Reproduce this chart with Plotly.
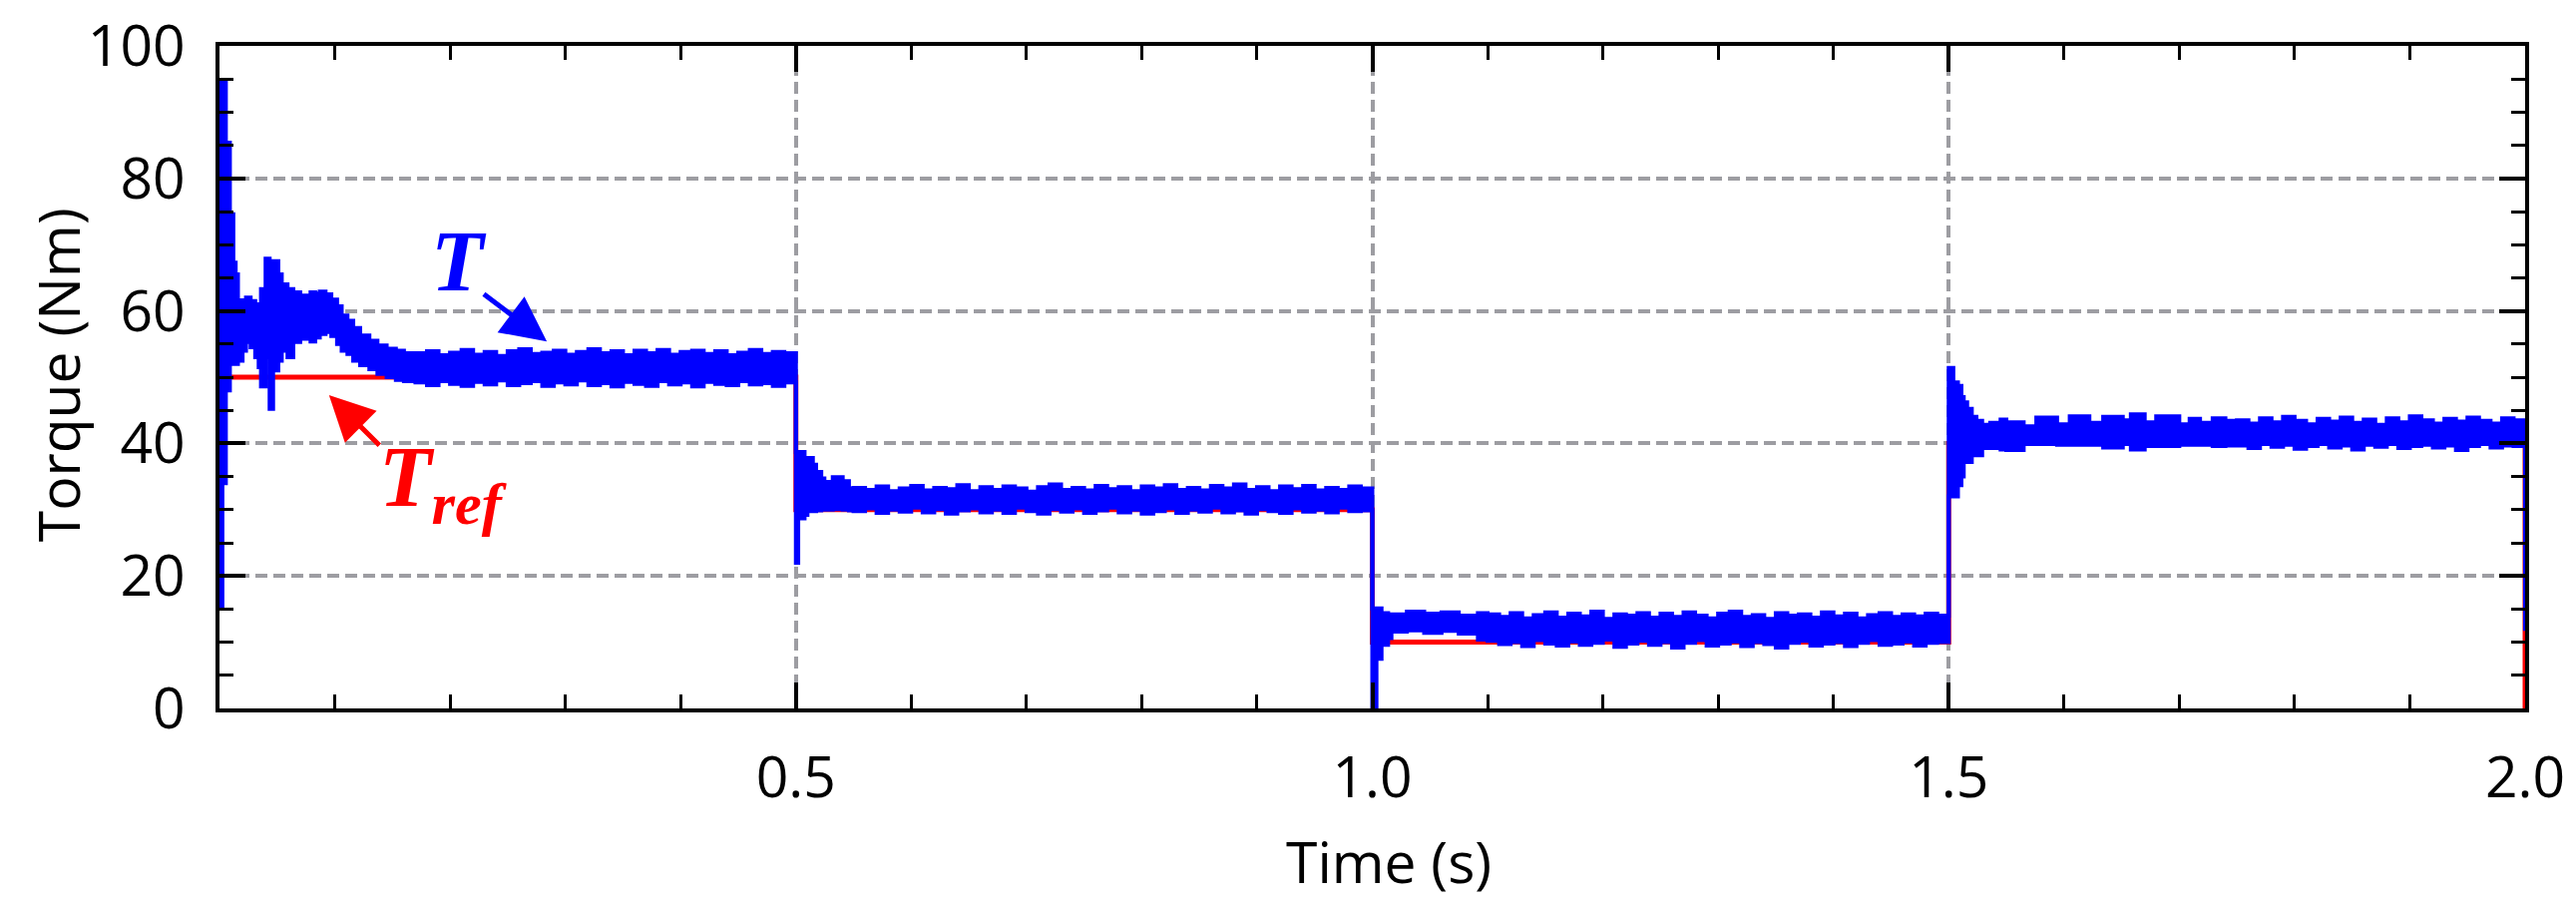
import numpy as np
import plotly.graph_objects as go

##### Data

# Torque reference (step profile), held until the next time point
ref_t = [0.0, 0.5, 1.0, 1.5, 2.0]
ref_v = [50, 30, 10, 40, 0]

# Measured torque T, drawn as the band between its upper and lower envelope
# segment 1 : start-up transient + 50 Nm
t_a = [0.0, 0.0025, 0.0055, 0.009, 0.012, 0.014, 0.016, 0.020, 0.023, 0.027,
       0.031, 0.034, 0.036, 0.040, 0.0435, 0.0465, 0.051, 0.054, 0.059, 0.064,
       0.070, 0.079, 0.083, 0.087, 0.092, 0.097, 0.102, 0.106, 0.111, 0.116,
       0.122, 0.130, 0.137, 0.145, 0.153, 0.160,
       0.17, 0.18, 0.19, 0.20, 0.21, 0.22, 0.23, 0.24, 0.25, 0.26, 0.27,
       0.28, 0.29, 0.30, 0.31, 0.32, 0.33, 0.34, 0.35, 0.36, 0.37, 0.38,
       0.39, 0.40, 0.41, 0.42, 0.43, 0.44, 0.45, 0.46, 0.47, 0.48, 0.49]
hi_a = [94.7, 94.7, 85.4, 74.6, 67.3, 65.5, 61.6, 61.0, 62.0, 61.5,
        59.8, 61.0, 63.3, 67.9, 67.5, 67.5, 65.5, 64.0, 63.3, 62.8,
        62.3, 62.8, 62.6, 62.9, 62.5, 61.7, 60.7, 59.3, 58.5, 57.4,
        56.3, 55.5, 54.8, 54.3, 54.0, 53.6,
        53.6, 53.9, 53.3, 53.7, 54.1, 53.4, 53.8, 53.2, 53.9, 54.2, 53.5,
        53.7, 54.0, 53.4, 53.8, 54.2, 53.6, 53.9, 53.3, 54.0, 53.6, 54.1,
        53.4, 53.8, 54.0, 53.5, 53.9, 53.3, 53.7, 54.1, 53.5, 53.8, 53.6]
lo_a = [15.4, 34.0, 48.0, 52.0, 53.5, 52.0, 52.5, 54.0, 55.3, 54.5,
        53.0, 51.5, 48.6, 53.0, 45.2, 51.0, 52.5, 54.0, 53.0, 55.3,
        55.8, 55.4, 56.0, 56.5, 56.8, 56.2, 55.0, 54.0, 53.5, 52.5,
        51.8, 51.2, 50.5, 50.0, 49.6, 49.4,
        49.2, 48.8, 49.4, 49.0, 48.7, 49.3, 48.9, 49.5, 48.8, 49.1, 49.4,
        48.7, 49.2, 48.9, 49.5, 48.8, 49.1, 48.6, 49.3, 49.0, 48.7, 49.4,
        48.9, 49.2, 48.6, 49.3, 49.0, 48.8, 49.4, 48.9, 49.1, 48.7, 49.2]

# segment 2 : 30 Nm
t_b = [0.500, 0.502, 0.506, 0.5075, 0.510, 0.5147, 0.5175, 0.522, 0.5247,
       0.532, 0.5406, 0.546,
       0.55, 0.56, 0.57, 0.58, 0.59, 0.60, 0.61, 0.62, 0.63, 0.64, 0.65,
       0.66, 0.67, 0.68, 0.69, 0.70, 0.71, 0.72, 0.73, 0.74, 0.75, 0.76,
       0.77, 0.78, 0.79, 0.80, 0.81, 0.82, 0.83, 0.84, 0.85, 0.86, 0.87,
       0.88, 0.89, 0.90, 0.91, 0.92, 0.93, 0.94, 0.95, 0.96, 0.97, 0.98, 0.99]
hi_b = [38.7, 38.7, 38.7, 37.8, 37.8, 36.8, 35.7, 34.7, 34.2,
        34.9, 34.3, 33.2,
        33.3, 33.0, 33.5, 32.8, 33.2, 33.6, 32.9, 33.3, 33.1, 33.7, 32.8,
        33.4, 33.0, 33.5, 33.2, 32.7, 33.4, 33.8, 33.0, 33.3, 32.9, 33.6,
        33.1, 33.4, 32.8, 33.5, 33.2, 33.7, 33.0, 33.3, 32.9, 33.6, 33.2,
        33.8, 33.0, 33.4, 32.8, 33.5, 33.1, 33.6, 32.9, 33.3, 33.0, 33.5, 33.2]
lo_b = [22.0, 28.7, 28.7, 29.2, 29.8, 29.8, 29.9, 30.0, 30.0,
        30.1, 30.0, 29.9,
        29.8, 30.2, 29.5, 30.0, 29.7, 30.3, 29.6, 30.1, 29.4, 29.9, 30.2,
        29.6, 30.0, 29.5, 30.3, 29.8, 29.4, 30.1, 29.7, 30.2, 29.5, 29.9,
        30.3, 29.6, 30.0, 29.4, 29.8, 30.2, 29.5, 30.0, 29.7, 30.3, 29.6,
        29.9, 29.4, 30.1, 29.8, 29.5, 30.2, 29.7, 30.0, 29.6, 30.3, 29.8, 29.9]

# segment 3 : 10 Nm
t_c = [1.000, 1.0036, 1.008, 1.0137, 1.0166, 1.030, 1.045, 1.060, 1.075, 1.0916,
       1.10, 1.11, 1.12, 1.13, 1.14, 1.15, 1.16, 1.17, 1.18, 1.19, 1.20,
       1.21, 1.22, 1.23, 1.24, 1.25, 1.26, 1.27, 1.28, 1.29, 1.30, 1.31,
       1.32, 1.33, 1.34, 1.35, 1.36, 1.37, 1.38, 1.39, 1.40, 1.41, 1.42,
       1.43, 1.44, 1.45, 1.46, 1.47, 1.48, 1.49]
hi_c = [15.1, 15.1, 14.4, 13.7, 14.2, 14.6, 14.3, 14.5, 14.0, 14.4,
        14.2, 13.8, 14.4, 13.6, 14.1, 14.5, 13.7, 14.3, 13.9, 14.6, 13.5,
        14.2, 14.0, 14.4, 13.7, 14.3, 13.8, 14.5, 14.0, 13.6, 14.3, 14.6,
        13.8, 14.1, 13.5, 14.4, 14.0, 14.2, 13.7, 14.5, 13.9, 14.3, 13.6,
        14.1, 14.4, 13.8, 14.2, 13.9, 14.3, 14.0]
lo_c = [0.0, 7.5, 9.6, 10.6, 11.6, 11.8, 11.4, 11.7, 11.3, 10.4,
        10.2, 9.7, 10.0, 9.4, 10.3, 9.8, 9.5, 10.1, 9.6, 9.9, 10.4,
        9.3, 9.8, 10.2, 9.6, 10.0, 9.2, 9.9, 10.3, 9.5, 9.8, 10.1,
        9.4, 10.0, 9.7, 9.2, 9.9, 10.2, 9.5, 9.8, 10.0, 9.4, 9.9,
        10.3, 9.6, 9.8, 10.1, 9.5, 9.9, 10.0]

# segment 4 : 40 Nm, then the drop at 2.0 s
t_d = [1.500, 1.504, 1.508, 1.511, 1.513, 1.516, 1.520, 1.524, 1.529, 1.536,
       1.545, 1.550, 1.565, 1.576, 1.594, 1.605, 1.622, 1.634, 1.651, 1.658,
       1.670, 1.680, 1.700, 1.709, 1.718, 1.729, 1.740,
       1.75, 1.76, 1.77, 1.78, 1.79, 1.80, 1.81, 1.82, 1.83, 1.84, 1.85,
       1.86, 1.87, 1.88, 1.89, 1.90, 1.91, 1.92, 1.93, 1.94, 1.95, 1.96,
       1.97, 1.98, 1.99, 2.000, 2.010]
hi_d = [51.4, 49.2, 48.7, 47.0, 46.2, 45.2, 44.0, 43.4, 42.8, 43.1,
        43.6, 43.2, 42.6, 43.9, 42.9, 44.1, 43.1, 44.0, 43.5, 44.4,
        43.2, 44.1, 42.9, 43.7, 43.1, 43.8, 43.4,
        43.5, 43.0, 43.8, 43.2, 44.0, 43.4, 42.9, 43.7, 43.3, 43.9, 43.1,
        43.6, 42.8, 43.8, 43.2, 44.1, 43.5, 43.0, 43.7, 43.3, 43.9, 43.4,
        43.0, 43.8, 43.5, 41.0, 41.0]
lo_d = [32.0, 32.0, 33.7, 35.0, 37.2, 37.2, 38.2, 38.2, 39.3, 39.3,
        39.1, 39.0, 39.9, 39.9, 39.8, 39.8, 39.8, 39.4, 39.9, 39.1,
        39.6, 39.6, 39.8, 39.8, 39.8, 39.6, 39.7,
        39.7, 39.3, 39.9, 39.5, 39.8, 39.2, 39.6, 39.9, 39.4, 39.7, 39.1,
        39.8, 39.5, 39.9, 39.3, 39.6, 39.8, 39.4, 39.7, 39.0, 39.6, 39.9,
        39.4, 39.7, 39.6, 12.0, 12.0]

x_ticks = [0.5, 1.0, 1.5, 2.0]
x_labels = ["0.5", "1.0", "1.5", "2.0"]

t_all = t_a + t_b + t_c + t_d
hi_all = hi_a + hi_b + hi_c + hi_d
lo_all = lo_a + lo_b + lo_c + lo_d

BLUE = "#0000ff"
RED = "#ff0000"
GRID = "#9d9da2"
FONT = "Open Sans"

##### Figure
fig = go.Figure()

# reference torque
fig.add_trace(go.Scatter(x=ref_t, y=ref_v, mode="lines", line_shape="hv",
                         line=dict(color=RED, width=5), showlegend=False,
                         hoverinfo="skip"))

# measured torque band (lower edge, then upper edge filled down to it)
fig.add_trace(go.Scatter(x=t_all, y=lo_all, mode="lines", line_shape="hv",
                         line=dict(color=BLUE, width=4), showlegend=False,
                         hoverinfo="skip"))
fig.add_trace(go.Scatter(x=t_all, y=hi_all, mode="lines", line_shape="hv",
                         line=dict(color=BLUE, width=4), fill="tonexty",
                         fillcolor=BLUE, showlegend=False, hoverinfo="skip"))

tick_font = dict(family=FONT, size=57, color="black")

fig.update_layout(
    width=2582, height=907,
    margin=dict(l=212, r=59, t=38, b=205, autoexpand=False),
    paper_bgcolor="white", plot_bgcolor="white",
    xaxis=dict(
        range=[0, 2], tickmode="array", tickvals=x_ticks, ticktext=x_labels,
        ticks="inside", ticklen=26, tickwidth=4, tickcolor="black",
        showline=True, linewidth=4, linecolor="black", mirror="allticks",
        showgrid=True, gridcolor=GRID, gridwidth=3.5, griddash="12px,6px",
        zeroline=False, tickfont=tick_font, ticklabelstandoff=17,
        ticklabeloverflow="allow", automargin=False,
        minor=dict(tickmode="array",
                   tickvals=[round(v, 1) for v in np.arange(0.1, 2.0, 0.1)],
                   ticks="inside", ticklen=14, tickwidth=3, tickcolor="black",
                   showgrid=False),
    ),
    yaxis=dict(
        range=[0, 100], tickmode="linear", tick0=0, dtick=20,
        ticks="inside", ticklen=26, tickwidth=4, tickcolor="black",
        showline=True, linewidth=4, linecolor="black", mirror="allticks",
        showgrid=True, gridcolor=GRID, gridwidth=3.5, griddash="12px,6px",
        zeroline=False, tickfont=tick_font, ticklabelstandoff=19,
        ticklabeloverflow="allow", automargin=False,
        minor=dict(dtick=5, ticks="inside", ticklen=14, tickwidth=3,
                   tickcolor="black", showgrid=False),
    ),
)

# axis titles
fig.add_annotation(x=0.507, y=-0.2304, xref="paper", yref="paper",
                   yanchor="middle", showarrow=False, text="Time (s)",
                   font=tick_font)
fig.add_annotation(x=-0.070, y=0.503, xref="paper", yref="paper",
                   xanchor="center", yanchor="middle", textangle=-90,
                   showarrow=False, text="Torque (Nm)", font=tick_font)

# labels and arrows
fig.add_annotation(x=0.208, y=67.5, xref="x", yref="y", showarrow=False,
                   text="<b><i>T</i></b>",
                   font=dict(family="Liberation Serif", size=86, color=BLUE))
fig.add_annotation(x=0.284, y=55.4, ax=0.228, ay=62.7, xref="x", yref="y",
                   axref="x", ayref="y", text="", showarrow=True,
                   arrowhead=2, arrowsize=1.8, arrowwidth=5, arrowcolor=BLUE)

fig.add_annotation(x=0.137, y=34.0, xref="x", yref="y", xanchor="left",
                   showarrow=False, text="<b><i>T<sub>ref</sub></i></b>",
                   font=dict(family="Liberation Serif", size=86, color=RED))
fig.add_annotation(x=0.095, y=47.3, ax=0.140, ay=39.5, xref="x", yref="y",
                   axref="x", ayref="y", text="", showarrow=True,
                   arrowhead=2, arrowsize=1.8, arrowwidth=5, arrowcolor=RED)

fig.write_html("out.html")
